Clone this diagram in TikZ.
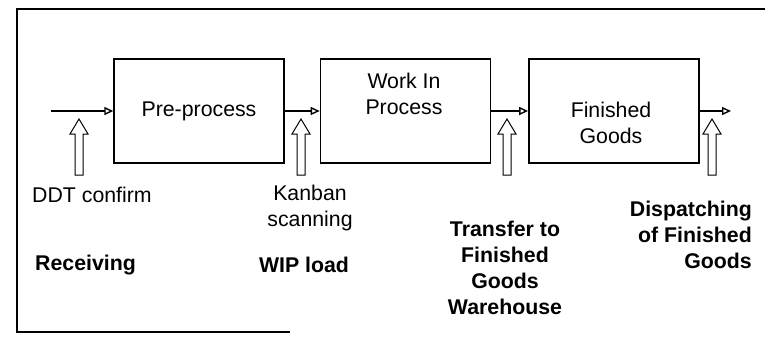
\documentclass[tikz,border=0pt]{standalone}
\usepackage{fontspec}
\setmainfont{Liberation Sans}
\usetikzlibrary{arrows.meta,positioning}

\begin{document}
\begin{tikzpicture}[x=1pt, y=-1pt, font=\fontsize{21.3}{26}\selectfont,
        stage/.style={rectangle, draw, line width=1.4pt, minimum width=170pt, minimum height=104pt, inner sep=0pt},
        flow/.style={-{Triangle[open, length=9pt, width=8pt]}, line width=1.4pt},
        trigger/.style={draw, line width=1pt, fill=white},
        note/.style={inner sep=0pt, align=center},
        event/.style={inner sep=0pt, align=center, font=\fontsize{21.3}{26}\selectfont\bfseries}]

    \useasboundingbox (0,0) rectangle (765,360);
    % scanned frame
    \draw[line width=1.4pt] (765,9) -- (17,9) -- (17,332) -- (290,332);

    \node[stage] (pre) at (199,111) {Pre-process};
    \node[stage, right=35pt of pre] (wip) {};
    \node[stage, right=37pt of wip] (fg) {};
    \node[note] (wiptext) at (404,94) {Work In\\Process};
    \node[note] (fgtext) at (611,123) {Finished\\Goods};

    \coordinate (in) at (51,111);
    \coordinate (out) at (731,111);
    \draw[flow] (in) -- (pre);
    \draw[flow] (pre) -- (wip);
    \draw[flow] (wip) -- (fg);
    \draw[flow] (fg) -- (out);

    % hollow trigger arrows
    \foreach \x [count=\i] in {79,301,507,712} {
        \coordinate (up\i) at (\x,119);
        \draw[trigger] (up\i) -- ++(9,15) -- ++(-5,0) -- ++(0,41) -- ++(-8,0)
            -- ++(0,-41) -- ++(-5,0) -- cycle;
    }

    \node[note, anchor=west] (ddt) at (32,195) {DDT confirm};
    \node[event, anchor=west] (recv) at (35,265) {Receiving};
    \node[note] (kanban) at (310,208) {Kanban\\scanning};
    \node[event] (wipload) at (304,265) {WIP load};
    \node[event] (transfer) at (505,268) {Transfer to\\Finished\\Goods\\Warehouse};
    \node[event, align=right, anchor=east] (dispatch) at (752,235) {Dispatching\\of Finished\\Goods};
\end{tikzpicture}
\end{document}
